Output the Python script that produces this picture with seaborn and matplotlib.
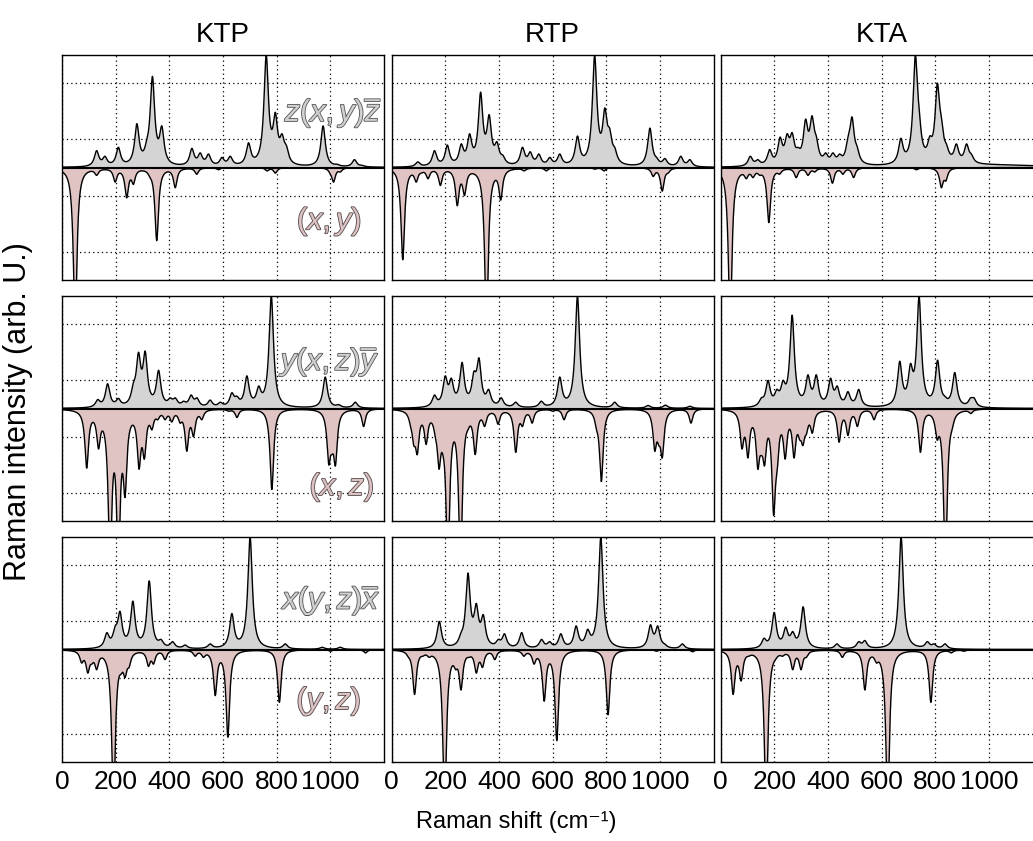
import numpy as np
import matplotlib
matplotlib.use("Agg")
import matplotlib.pyplot as plt
import matplotlib.patheffects as pe
import seaborn as sns

# peak lists: (Raman shift, height) ; optional 3rd value = HWHM
KTP_ZXY_POS = [(129, .15), (160, .10), (210, .18), (279, .39), (316, .25), (337, .81), (372, .37), (397, .07),
               (484, .17), (515, .13), (546, .12), (596, .09), (627, .10), (695, .22), (761, 1.0), (795, .49),
               (820, .30), (836, .20), (973, .37), (1025, .03), (1090, .07), (1118, .02)]
KTP_ZXY_NEG = [(49, 1.4), (129, .07), (198, .13), (241, .27), (266, .15), (328, .09), (353, .65), (422, .18),
               (502, .06), (583, .02), (764, .03), (795, .05), (1000, .06), (1012, .13), (1037, .04)]
RTP_ZXY_POS = [(98, .05), (160, .15), (208, .20), (260, .21), (291, .30), (332, .67), (364, .47), (393, .23),
               (415, .11), (488, .18), (517, .14), (549, .12), (590, .09), (627, .12), (693, .28), (757, 1.0),
               (795, .53), (813, .35), (832, .18), (963, .35), (988, .09), (1019, .08), (1078, .10), (1112, .07),
               (950, .045, 250)]
RTP_ZXY_NEG = [(42, .82), (92, .13), (111, .05), (136, .10), (182, .16), (245, .34), (272, .25), (354, 1.4),
               (407, .29), (494, .03), (577, .03), (757, .015), (792, .03), (975, .08), (1009, .21), (1031, .05)]
KTA_ZXY_POS = [(111, .10), (139, .07), (183, .16), (222, .27), (248, .30), (267, .31), (289, .18), (317, .43),
               (341, .46), (357, .28), (392, .13), (419, .13), (444, .12), (475, .27), (490, .45), (509, .19),
               (672, .26), (726, 1.0), (740, .53), (780, .28), (808, .75), (823, .45), (842, .21), (879, .21),
               (917, .21), (935, .12), (1000, .03, 250)]
KTA_ZXY_NEG = [(36, 1.4), (96, .10), (121, .09), (146, .07), (180, .49), (220, .06), (282, .09), (326, .07),
               (351, .04), (417, .14), (456, .06), (496, .09), (730, .02), (811, .06), (823, .18), (840, .12)]

KTP_YXZ_POS = [(133, .08), (170, .22), (210, .09), (266, .23), (285, .50), (310, .51), (360, .34), (403, .095),
               (422, .095), (453, .065), (481, .12), (503, .095), (552, .075), (590, .056), (633, .14), (652, .11),
               (689, .29), (733, .20), (780, 1.0), (981, .28), (1031, .035), (1093, .056)]
KTP_YXZ_NEG = [(92, .53), (111, .10), (123, .11), (136, .36), (148, .19), (179, 1.4), (192, .5), (210, 1.4),
               (235, .79), (287, .54), (307, .45), (335, .19), (357, .10), (384, .10), (409, .12), (440, .13),
               (465, .38), (490, .25), (521, .10), (621, .024), (652, .08), (770, .23), (782, .72), (994, .5),
               (1006, .41), (1019, .51), (1124, .16)]
RTP_YXZ_POS = [(160, .12), (200, .29), (223, .27), (263, .41), (307, .33), (326, .45), (362, .17), (409, .095),
               (463, .056), (558, .065), (627, .28), (693, 1.0), (832, .056), (956, .027), (1021, .03), (1112, .02)]
RTP_YXZ_NEG = [(71, .16), (83, .33), (96, .41), (129, .32), (146, .11), (163, .25), (177, .54), (192, .42),
               (210, 1.4), (235, .23), (257, 1.4), (285, .19), (312, .41), (347, .16), (397, .14), (463, .39),
               (488, .16), (524, .13), (600, .024), (643, .10), (764, .19), (782, .65), (981, .38), (996, .33),
               (1009, .44), (1116, .13)]
KTA_YXZ_POS = [(152, .095), (177, .25), (210, .17), (233, .25), (267, .83), (326, .30), (357, .30), (410, .27),
               (435, .20), (475, .15), (515, .17), (668, .42), (708, .40), (740, 1.0), (809, .43), (836, .11),
               (873, .32), (932, .095), (945, .095)]
KTA_YXZ_NEG = [(80, .36), (102, .44), (117, .16), (139, .54), (152, .42), (164, .51), (179, .26), (198, .95),
               (211, .56), (241, .45), (274, .44), (295, .28), (307, .33), (320, .23), (342, .22), (442, .30),
               (475, .24), (510, .16), (572, .10), (745, .39), (807, .28), (838, 1.4), (863, .19), (933, .045)]

KTP_XYZ_POS = [(167, .15), (198, .21), (216, .34), (264, .43), (325, .61), (369, .09), (412, .07), (459, .04),
               (552, .05), (633, .32), (701, 1.0), (832, .05), (969, .02), (1037, .02)]
KTP_XYZ_NEG = [(73, .12), (96, .21), (111, .13), (129, .18), (160, .10), (192, 1.4), (220, .22), (235, .25),
               (250, .16), (322, .15), (341, .13), (384, .09), (496, .06), (527, .07), (571, .41), (618, .78),
               (810, .47), (1000, .015), (1131, .03)]
RTP_XYZ_POS = [(178, .25), (259, .15), (285, .68), (316, .41), (342, .31), (398, .09), (421, .14), (485, .15),
               (559, .09), (589, .07), (631, .14), (688, .21), (731, .18), (780, 1.0), (965, .22), (992, .21),
               (1018, .05), (1084, .05)]
RTP_XYZ_NEG = [(63, .07), (86, .40), (117, .06), (140, .07), (167, .07), (198, 1.4), (219, .16), (239, .18),
               (259, .36), (289, .07), (316, .21), (339, .16), (385, .09), (493, .06), (531, .13), (569, .46),
               (616, .81), (807, .58), (987, .015), (1122, .02)]
KTA_XYZ_POS = [(162, .10), (200, .33), (243, .20), (269, .16), (308, .38), (434, .05), (515, .07), (538, .08),
               (673, 1.0), (771, .07), (796, .05), (837, .05)]
KTA_XYZ_NEG = [(47, .40), (77, .28), (105, .06), (170, 1.4), (205, .09), (231, .06), (269, .18), (300, .18),
               (320, .07), (454, .07), (538, .36), (581, .12), (623, 1.4), (784, .47), (860, .03), (907, .015)]

materials = ['KTP', 'RTP', 'KTA']
pos_labels = [r'$z(x,y)\overline{z}$', r'$y(x,z)\overline{y}$', r'$x(y,z)\overline{x}$']
neg_labels = [r'$(x,y)$', r'$(x,z)$', r'$(y,z)$']
label_pos = [((1011, 0.49), (996, -0.48)), ((1002, 0.42), (1043, -0.70)), ((1006, 0.44), (994, -0.46))]

spectra = [
    [(KTP_ZXY_POS, KTP_ZXY_NEG), (RTP_ZXY_POS, RTP_ZXY_NEG), (KTA_ZXY_POS, KTA_ZXY_NEG)],
    [(KTP_YXZ_POS, KTP_YXZ_NEG), (RTP_YXZ_POS, RTP_YXZ_NEG), (KTA_YXZ_POS, KTA_YXZ_NEG)],
    [(KTP_XYZ_POS, KTP_XYZ_NEG), (RTP_XYZ_POS, RTP_XYZ_NEG), (KTA_XYZ_POS, KTA_XYZ_NEG)],
]

shift = np.linspace(0, 1200, 2401)


def lorentz(x, x0, g):
    return 1.0 / (1.0 + ((x - x0) / g) ** 2)


def build(peaks, gamma):
    # broaden the read peak list, amplitudes tuned so the curve passes the read heights
    pos = np.array([p[0] for p in peaks], float)
    tgt = np.array([p[1] for p in peaks], float)
    wid = np.array([p[2] if len(p) > 2 else gamma for p in peaks], float)
    A = lorentz(pos[:, None], pos[None, :], wid[None, :])
    amp = tgt.copy()
    for _ in range(400):
        amp = np.clip(amp + 0.4 * (tgt - A @ amp), 0, None)
    return (amp[None, :] * lorentz(shift[:, None], pos[None, :], wid[None, :])).sum(axis=1)


sns.set_style('white')
plt.rcParams['font.family'] = ['Liberation Sans', 'DejaVu Sans']
plt.rcParams['text.color'] = 'black'
plt.rcParams['xtick.color'] = 'black'
plt.rcParams['mathtext.fontset'] = 'custom'
plt.rcParams['mathtext.rm'] = 'Liberation Sans'
plt.rcParams['mathtext.it'] = 'Liberation Sans:italic'

W, H = 1033, 841
fig = plt.figure(figsize=(W / 100, H / 100), dpi=100)
lefts = [62, 391.5, 720.5]
tops = [55, 296, 537]
pw, ph = 322, 225

pos_fill = '#d4d4d4'
neg_fill = '#e0c4c4'

for r in range(3):
    for c in range(3):
        ax = fig.add_axes([lefts[c] / W, 1 - (tops[r] + ph) / H, pw / W, ph / H])
        up = build(spectra[r][c][0], 10.0)
        down = -build(spectra[r][c][1], 8.0)
        ax.fill_between(shift, 0, up, color=pos_fill, lw=0)
        ax.fill_between(shift, 0, down, color=neg_fill, lw=0)
        sns.lineplot(x=shift, y=up, ax=ax, color='black', lw=1.0)
        sns.lineplot(x=shift, y=down, ax=ax, color='black', lw=1.0)
        ax.axhline(0, color='black', lw=1.5)
        ax.set_xlim(0, 1200)
        ax.set_ylim(-1, 1)
        ax.set_xticks([0, 200, 400, 600, 800, 1000])
        ax.set_yticks([-0.75, -0.25, 0.25, 0.75])
        ax.grid(True, color='black', lw=0.9, linestyle=(0, (1, 2.5)))
        ax.tick_params(length=0, labelleft=False, labelbottom=(r == 2), labelsize=19, pad=6)
        for s in ax.spines.values():
            s.set_color('black')
            s.set_linewidth(1.0)
        ax.set_xlabel('')
        ax.set_ylabel('')
        if r == 0:
            ax.set_title(materials[c], fontsize=20, pad=9)
        if c == 0:
            (px, py), (nx, ny) = label_pos[r]
            ax.text(px, py, pos_labels[r], fontsize=22, ha='center', va='center', color='#d0d0d0',
                    path_effects=[pe.withStroke(linewidth=1.2, foreground='#555555')])
            ax.text(nx, ny, neg_labels[r], fontsize=22, ha='center', va='center', color='#dcc2c2',
                    path_effects=[pe.withStroke(linewidth=1.2, foreground='#554a4a')])

fig.text(18 / W, 1 - 412 / H, 'Raman intensity (arb. U.)', rotation=90, ha='center', va='center', fontsize=22)
fig.text(516 / W, 1 - 822 / H, 'Raman shift (cm\u207b\u00b9)', ha='center', va='center', fontsize=17)

fig.savefig('out.png', dpi=100)
